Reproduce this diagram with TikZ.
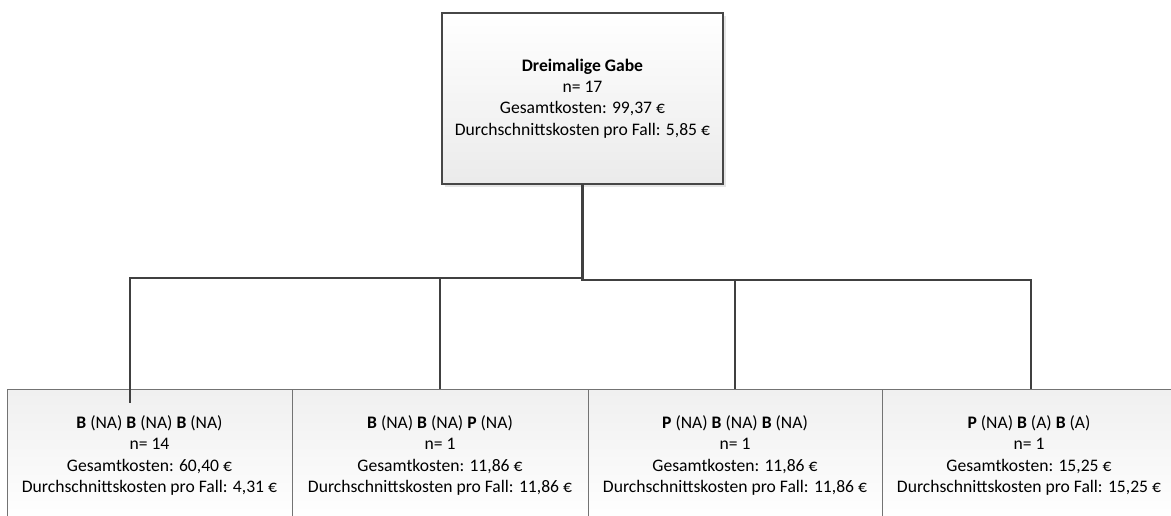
\documentclass[tikz,border=0pt]{standalone}
\usepackage{fontspec}
\setmainfont{Carlito}
\usetikzlibrary{positioning,calc,shadows}

\begin{document}
\begin{tikzpicture}[
    x=0.75pt, y=-0.75pt,
    node distance=0pt,
    rootbox/.style={rectangle, draw=black!72, line width=1pt, outer sep=0pt, inner sep=0pt,
        top color=white, bottom color=black!8, minimum width=210.75pt, minimum height=128.25pt,
        align=center, font=\fontsize{13.2}{16}\selectfont,
        drop shadow={shadow xshift=2.5pt, shadow yshift=-2.5pt, fill=black!10, opacity=1}},
    leafbox/.style={rectangle, draw=black!55, line width=0.75pt, outer sep=0pt, inner sep=0pt,
        top color=black!6, bottom color=white, minimum width=220.5pt, minimum height=99.75pt,
        align=center, font=\fontsize{13.2}{16}\selectfont},
    conn/.style={draw=black!75, line width=1.6pt}
]
    \useasboundingbox (0,0) rectangle (1171,515);

    \node[rootbox] (root) at (582.5,98.5) {\textbf{Dreimalige Gabe}\\n= 17\\Gesamtkosten: 99,37 €\\Durchschnittskosten pro Fall: 5,85 €};

    \node[leafbox, minimum width=213.75pt] (bbb) at (149.5,455.5) {\textbf{B} (NA) \textbf{B} (NA) \textbf{B} (NA)\\n= 14\\Gesamtkosten: 60,40 €\\Durchschnittskosten pro Fall: 4,31 €};
    \node[leafbox, minimum width=222pt, right=of bbb] (bbp) {\textbf{B} (NA) \textbf{B} (NA) \textbf{P} (NA)\\n= 1\\Gesamtkosten: 11,86 €\\Durchschnittskosten pro Fall: 11,86 €};
    \node[leafbox, right=of bbp] (pbb) {\textbf{P} (NA) \textbf{B} (NA) \textbf{B} (NA)\\n= 1\\Gesamtkosten: 11,86 €\\Durchschnittskosten pro Fall: 11,86 €};
    \node[leafbox, right=of pbb] (pba) {\textbf{P} (NA) \textbf{B} (A) \textbf{B} (A)\\n= 1\\Gesamtkosten: 15,25 €\\Durchschnittskosten pro Fall: 15,25 €};

    % tree connectors
    \draw[conn] (root.south) -- ++(0,94) -| ($(bbb.north)+(-19.5,14)$);
    \draw[conn] (root.south) -- ++(0,94) -| (bbp.north);
    \draw[conn] (root.south) -- ++(0,96) -| (pbb.north);
    \draw[conn] (root.south) -- ++(0,96) -| ($(pba.north)+(2,0)$);
\end{tikzpicture}
\end{document}
